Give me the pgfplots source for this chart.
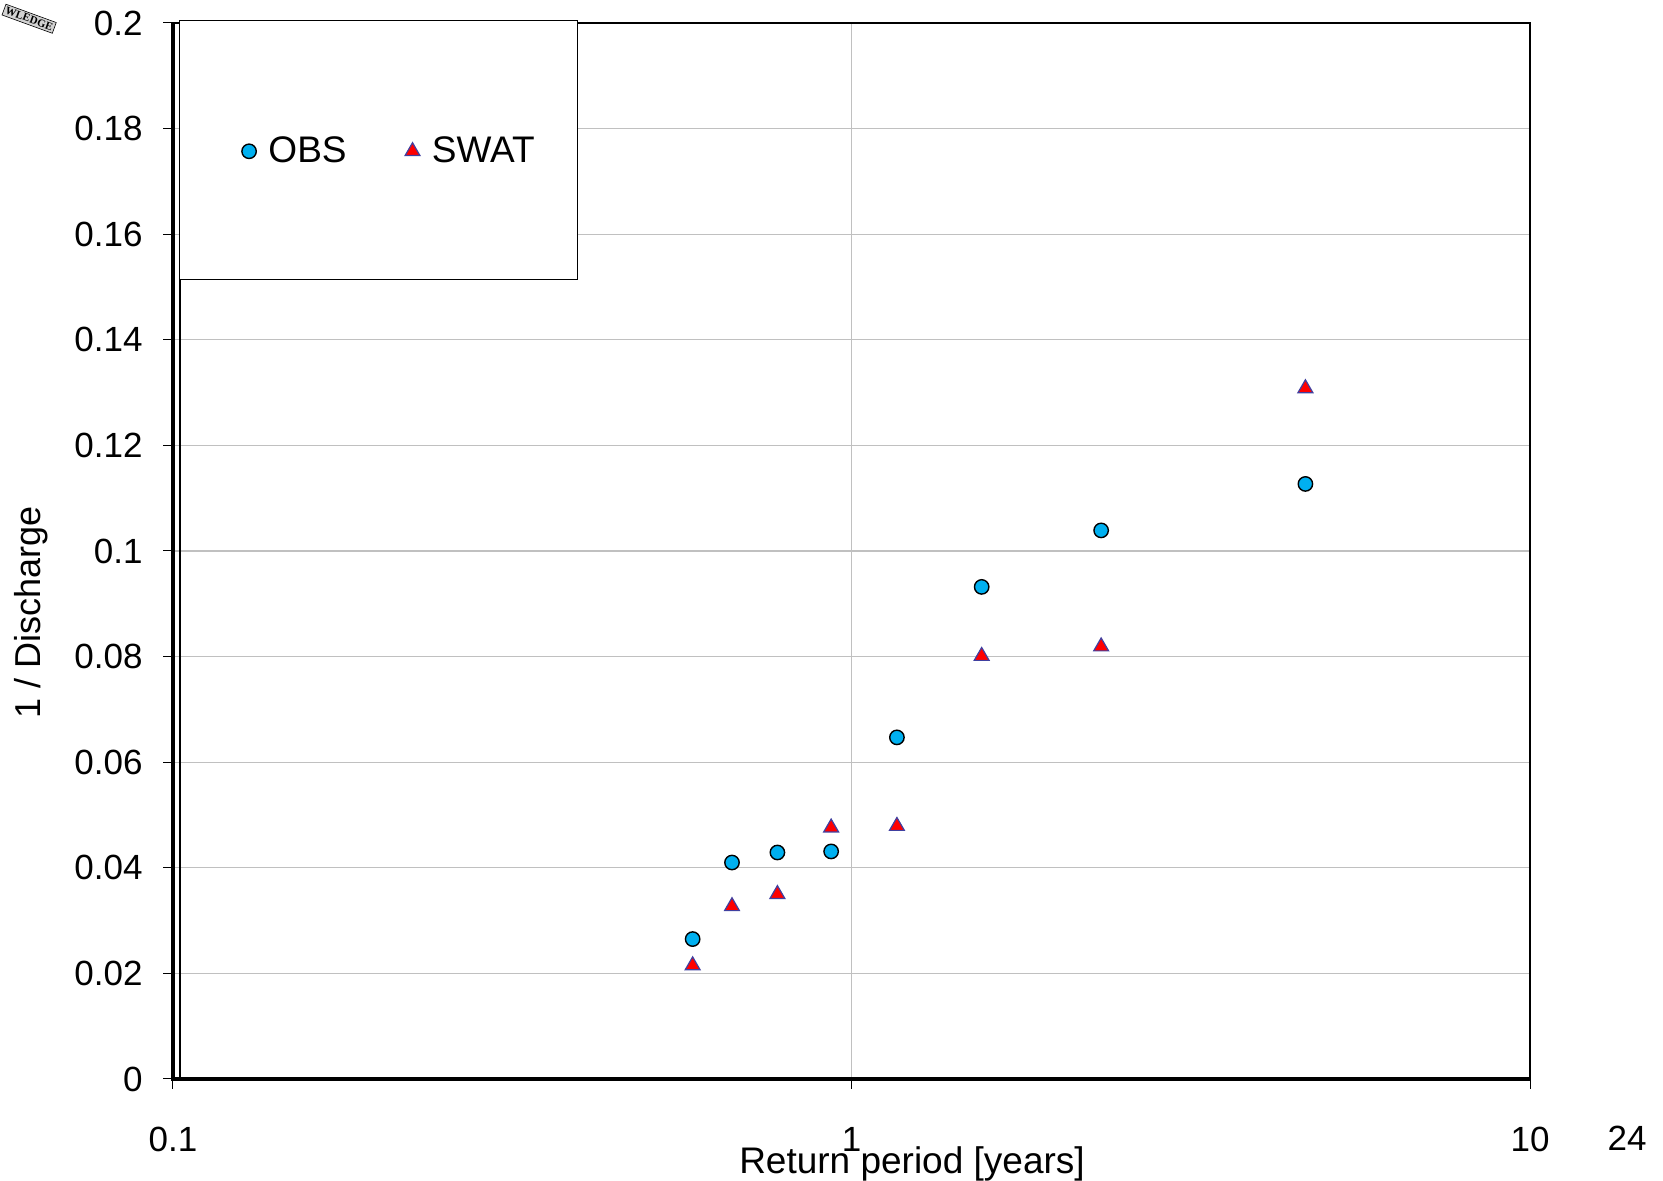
\documentclass[border=0pt]{standalone}
\usepackage{fontspec}
\setmainfont{Liberation Sans}
\newfontfamily\serifwm{Liberation Serif}
\usepackage{pgfplots}
\pgfplotsset{compat=1.18}
\definecolor{obsfill}{RGB}{0,176,240}
\definecolor{swatfill}{RGB}{255,0,0}
\definecolor{swatline}{RGB}{64,64,160}
\definecolor{gridgray}{RGB}{192,192,192}
\begin{document}
\begin{tikzpicture}
\useasboundingbox (-86.5pt,-51pt) rectangle (745pt,539.5pt);
\begin{axis}[
  at={(0,0)}, anchor=south west,
  width=678.5pt, height=528pt, scale only axis,
  clip=false,
  xmode=log, xmin=0.1, xmax=10, ymin=0, ymax=0.2,
  xtick={0.1,1,10}, xticklabels={0.1,1,10},
  xminorticks=false,
  ytick={0,0.02,0.04,0.06,0.08,0.1,0.12,0.14,0.16,0.18,0.2},
  yticklabels={0,0.02,0.04,0.06,0.08,0.1,0.12,0.14,0.16,0.18,0.2},
  tick pos=left,
  tick align=outside, major tick length=5pt,
  tick style={black, line width=0.5pt},
  grid=major, grid style={gridgray, line width=0.65pt},
  axis line style={line width=0.6pt},
  /pgf/number format/assume math mode=true,
  ticklabel style={font=\fontsize{17.5}{20}\selectfont},
  xticklabel style={anchor=center, yshift=-25pt},
  yticklabel style={anchor=east, inner sep=0pt, xshift=-10pt},
  xlabel={Return period [years]},
  ylabel={1 / Discharge},
  label style={font=\fontsize{18}{21}\selectfont},
  xlabel style={at={(axis description cs:0.5446,-0.0895)}, anchor=base, font=\fontsize{18.5}{21}\selectfont},
  ylabel style={at={(axis description cs:-0.09749,0.4422)}, anchor=base},
  legend style={at={(axis description cs:0.04842,0.8785)}, anchor=west,
    draw=none, fill=none, inner sep=0pt, outer sep=0pt,
    font=\fontsize{18.5}{22}\selectfont,
    legend columns=2, nodes={inner sep=0pt},
    /tikz/every odd column/.append style={column sep=4.5pt},
    /tikz/every even column/.append style={column sep=27.75pt}},
  legend image code/.code={\path (-5pt,0pt) (5pt,0pt); \draw[#1] plot coordinates {(0pt,0pt)};},
]
\draw[line width=0.6pt] ([xshift=3.5pt]axis description cs:0,0) -- ([xshift=3.5pt]axis description cs:0,1);
\filldraw[fill=white, draw=black, line width=0.65pt] (axis description cs:0.00464,0.75691) rectangle (axis description cs:0.29794,1.00256);

\addplot[only marks, mark=*, mark size=3.6pt,
  mark options={fill=obsfill, draw=black, line width=0.7pt}] coordinates {
  (0.5833,0.0265) (0.6667,0.0410) (0.7778,0.0429) (0.9333,0.0431)
  (1.1667,0.0647) (1.5556,0.0932) (2.3333,0.1039) (4.6667,0.1127)
};
\addlegendentry{OBS}
\addplot[only marks, mark=triangle*, mark size=4.3pt,
  mark options={fill=swatfill, draw=swatline, line width=0.6pt}] coordinates {
  (0.5833,0.0215) (0.6667,0.0327) (0.7778,0.0350) (0.9333,0.0476)
  (1.1667,0.0479) (1.5556,0.0801) (2.3333,0.0819) (4.6667,0.1308)
};
\addlegendentry{SWAT}

\draw[line width=2pt] (axis description cs:0,1) -- (axis description cs:0,0) -- (axis description cs:1,0);
\node[font=\fontsize{17.5}{20}\selectfont, anchor=center] at (axis description cs:1.07148,-0.0566) {24};
\node[rotate=-20, fill=gray!35, draw=black, line width=0.3pt, inner sep=1pt,
  font=\fontsize{5.5}{6}\selectfont\serifwm\bfseries] at (axis description cs:-0.1060,1.0040) {WLEDGE};
\end{axis}
\end{tikzpicture}
\end{document}
